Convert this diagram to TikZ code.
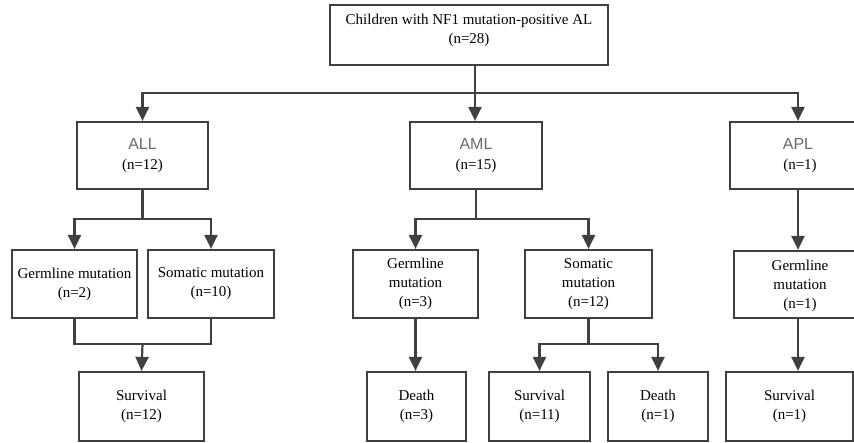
\documentclass[tikz,border=0pt]{standalone}
\usepackage{fontspec}
\setmainfont{Liberation Serif}
\newfontfamily\labelsans{Liberation Sans}
\usetikzlibrary{arrows.meta}
\definecolor{linec}{HTML}{404040}
\definecolor{sansc}{HTML}{6A6A6A}
\tikzset{
  box/.style={draw=linec, line width=2.2pt, rectangle, inner sep=0pt},
  txt/.style={align=center, inner sep=0pt, font=\fontsize{15}{19}\selectfont},
  conn/.style={draw=linec, line width=2.2pt},
  arr/.style={conn, -{Triangle[width=13pt,length=14pt]}},
  hd/.style={font=\fontsize{16}{19}\labelsans\color{sansc}}
}
\newcommand{\hdtext}[1]{{\fontsize{16}{19}\labelsans\color{sansc}#1}}
\begin{document}
\begin{tikzpicture}[x=1pt,y=-1pt]
\useasboundingbox (0,0) rectangle (854,443);
\clip (0,0) rectangle (854,443);
\fill[white] (0,0) rectangle (854,443);
% boxes
\node[box, minimum width=278pt, minimum height=60pt] (top) at (469,35) {};
\node[txt] (topt) at (469,30) {Children with NF1 mutation-positive AL\\(n=28)};

\node[box, txt, minimum width=131pt, minimum height=67pt] (ALL) at (142.5,155.5) {\hdtext{ALL}\\[1pt](n=12)};
\node[box, txt, minimum width=132pt, minimum height=67pt] (AML) at (476,155.5) {\hdtext{AML}\\[1pt](n=15)};
\node[box, minimum width=136pt, minimum height=67pt] (APL) at (798,155.5) {};
\node[txt] (APLt) at (798,156) {\hdtext{APL}\\[1pt]\hspace*{4pt}(n=1)};

\node[box, txt, minimum width=125pt, minimum height=68pt] (GA) at (74.5,284) {Germline mutation\\(n=2)};
\node[box, txt, minimum width=126pt, minimum height=68pt] (SA) at (211,284) {Somatic mutation\\(n=10)};
\node[box, txt, minimum width=125pt, minimum height=68pt] (GM) at (415.5,284) {Germline\\mutation\\(n=3)};
\node[box, txt, minimum width=127pt, minimum height=68pt] (SM) at (588.5,284) {Somatic\\mutation\\(n=12)};
\node[box, minimum width=132pt, minimum height=67pt] (GP) at (800,284.5) {};
\node[txt] (GPt) at (800,286) {Germline\\mutation\\(n=1)};

\node[box, txt, minimum width=125pt, minimum height=69pt] (SurvA) at (141.5,406.5) {Survival\\(n=12)};
\node[box, txt, minimum width=99pt, minimum height=69pt] (D3) at (416.5,406.5) {Death\\(n=3)};
\node[box, txt, minimum width=101pt, minimum height=69pt] (S11) at (539.5,406.5) {Survival\\(n=11)};
\node[box, txt, minimum width=100pt, minimum height=69pt] (D1) at (658,406.5) {Death\\(n=1)};
\node[box, txt, minimum width=127pt, minimum height=69pt] (SP) at (789.5,406.5) {Survival\\(n=1)};

% junctions
\coordinate (j1) at (475,93);
\coordinate (b1) at (142.5,219);
\coordinate (m1) at (142.5,344);
\coordinate (b2) at (476,219);
\coordinate (b3) at (588.5,344);

% top level
\draw[conn] (top.south -| j1) -- (j1);
\draw[arr] (j1) -| (ALL.north);
\draw[arr] (j1) -- (j1 |- AML.north);
\draw[arr] (j1) -| (APL.north);

% ALL branch
\draw[conn] (ALL.south) -- (b1);
\draw[arr] (b1) -| (GA.north);
\draw[arr] (b1) -| (SA.north);
\draw[conn] (GA.south) |- (m1);
\draw[conn] (SA.south) |- (m1);
\draw[arr] (m1) -- (SurvA.north);

% AML branch
\draw[conn] (AML.south) -- (b2);
\draw[arr] (b2) -| (GM.north);
\draw[arr] (b2) -| (SM.north);
\draw[arr] (GM.south) -- (GM.south |- D3.north);
\draw[conn] (SM.south) -- (b3);
\draw[arr] (b3) -| (S11.north);
\draw[arr] (b3) -| (D1.north);

% APL branch
\draw[arr] (APL.south) -- (APL.south |- GP.north);
\draw[arr] (APL.south |- GP.south) -- (APL.south |- SP.north);
\end{tikzpicture}
\end{document}
